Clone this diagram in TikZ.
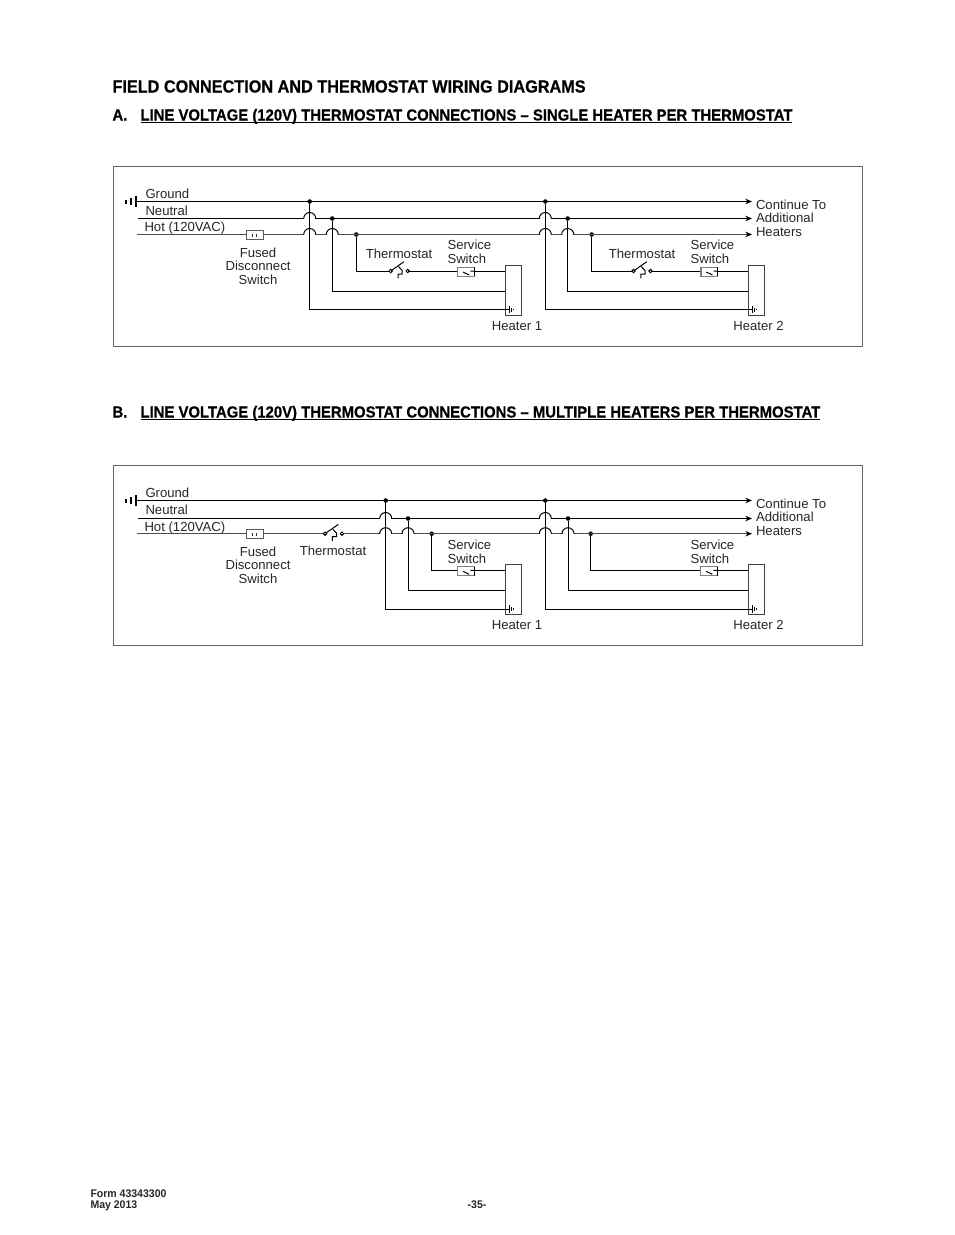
\documentclass[tikz,border=0pt]{standalone}
\usepackage{fontspec}
\setmainfont{Liberation Sans}
\newfontfamily\headfont[BoldFeatures={FakeStretch=0.93,FakeBold=0.5}]{Liberation Sans}
\newfontfamily\footfont[BoldFeatures={FakeStretch=0.95}]{Liberation Sans}
\usetikzlibrary{arrows.meta}

\tikzset{every picture/.style={line width=0.75pt},
	wire/.style={draw=black,line width=0.75pt},
	hotwire/.style={draw=black!70,line width=0.75pt},
	feed/.style={wire,-{Stealth[length=5pt,width=4.2pt]}},
	hotfeed/.style={hotwire,-{Stealth[length=5pt,width=4.2pt,black]}},
	tap/.style={circle,fill=black,inner sep=0pt,minimum size=3.4pt},
	panel/.style={draw=black!60,line width=0.6pt},
	label/.style={font=\fontsize{9.85}{10.2}\selectfont,text=black!85,inner sep=0pt,align=center},
	leftlabel/.style={label,align=left,anchor=west},
	heading/.style={font=\headfont\bfseries\fontsize{12}{14}\selectfont,inner sep=0pt,anchor=base west},
	bigheading/.style={heading,font=\headfont\bfseries\fontsize{13.1}{15}\selectfont},
	footer/.style={font=\footfont\bfseries\fontsize{8.3}{8.4}\selectfont,inner sep=0pt,align=left,text=black!85},
	heaterbox/.style={draw=black!75,fill=white,line width=0.75pt,minimum width=12.3pt,minimum height=37.5pt,inner sep=0pt},
	fusebox/.style={draw=black!65,fill=white,line width=0.75pt,minimum width=12.5pt,minimum height=6.2pt,inner sep=0pt},
	pics/hop/.style={code={
		\draw [white,line width=1.4pt] (-5.5,0) -- (5.5,0);
		\draw [wire] (-6,0) arc [start angle=180,end angle=0,radius=6];
	}},
	pics/fuseticks/.style={code={
		\draw [black!80] (-2,-1.5) -- (-2,1.5) (2,-1.5) -- (2,1.5);
	}},
	pics/earthbars/.style={code={
		\draw [wire,line width=0.9pt] (0,-5.7) -- (0,5.7);
		\draw [wire,line width=0.9pt] (-5,-3.4) -- (-5,3.4);
		\draw [wire,line width=0.9pt] (-10,-2) -- (-10,2);
	}},
	pics/heaterbars/.style={code={
		\draw [wire] (0,-3.7) -- (0,3.7);
		\draw [wire] (2.3,-2) -- (2.3,2);
		\draw [wire] (4.4,-0.8) -- (4.4,0.8);
	}},
	pics/thermo/.style={code={
		\draw [wire] (0,0) -- (13.3,9.3);
		\draw [wire] (7.3,-7.3) -- (7.3,-3) -- (11.5,-3) -- (11.5,0.5) -- (7.8,4.5);
		\draw [wire,fill=white] (0,0) circle [radius=1.7] (17,0) circle [radius=1.7];
	}},
	pics/servicebox/.style={code={
		\draw [draw=black!50,fill=white,line width=0.9pt] (0,3.7) rectangle (16.6,-5.3);
		\draw [black] (16.6,3.7) -- (16.6,-5.3);
		\draw [wire] (5.3,-1) -- (11.5,-4) (12.6,0) -- (16.6,0);
	}}
}

\begin{document}
\begin{tikzpicture}[x=0.75pt,y=0.75pt,yscale=-1,xscale=1]
	\useasboundingbox (0,0) rectangle (954,1235);

	% Headings
	\node [bigheading] (titleMain) at (112,92.5) {FIELD CONNECTION AND THERMOSTAT WIRING DIAGRAMS};
	\node [heading] (markA) at (112,120.5) {A.};
	\node [heading] (titleA) at (140,120.5) {\underline{\smash{LINE VOLTAGE (120V) THERMOSTAT CONNECTIONS – SINGLE HEATER PER THERMOSTAT}}};
	\node [heading] (markB) at (112,417.5) {B.};
	\node [heading] (titleB) at (140,417.5) {\underline{\smash{LINE VOLTAGE (120V) THERMOSTAT CONNECTIONS – MULTIPLE HEATERS PER THERMOSTAT}}};

	% Panel A
	\draw [panel] (113.5,166.5) rectangle (862.5,346.5);
	\coordinate (groundA) at (136,201.5);
	\coordinate (neutralA) at (138,218.5);
	\coordinate (hotA) at (137,234.5);
	\coordinate (groundAend) at (752,201.5);
	\coordinate (neutralAend) at (752,218.5);
	\coordinate (hotAend) at (752,234.5);
	\node [tap] (groundAa) at (309.7,201.5) {};
	\node [tap] (neutralAa) at (332.3,218.5) {};
	\node [tap] (hotAa) at (356.3,234.5) {};
	\node [tap] (groundAb) at (545.3,201.5) {};
	\node [tap] (neutralAb) at (567.7,218.5) {};
	\node [tap] (hotAb) at (591.7,234.5) {};
	\draw [feed] (groundA) -- (groundAend);
	\draw [feed] (neutralA) -- (neutralAend);
	\draw [hotfeed] (hotA) -- (hotAend);
	\path (groundA) pic {earthbars};
	\node [fusebox] (fuseA) at (254.7,235) {};
	\path (fuseA) pic {fuseticks};
	\path (groundAa |- neutralA) pic {hop} (groundAa |- hotA) pic {hop} (neutralAa |- hotA) pic {hop};
	\path (groundAb |- neutralA) pic {hop} (groundAb |- hotA) pic {hop} (neutralAb |- hotA) pic {hop};
	% Heater 1
	\coordinate (thermoAa) at (390.7,271);
	\coordinate (thermoAaout) at (407.7,271);
	\coordinate (serviceAa) at (457.7,271);
	\coordinate (serviceAaout) at (474.3,271);
	\coordinate (heaterAain) at (505.3,271);
	\coordinate (neutralAain) at (505.3,291.5);
	\coordinate (groundAain) at (509,309.5);
	\draw [wire] (hotAa) |- (thermoAa);
	\draw [wire] (thermoAaout) -- (serviceAa) (serviceAaout) -- (heaterAain);
	\draw [wire] (neutralAa) |- (neutralAain);
	\node [heaterbox] (heaterAa) at (513.5,290.3) {};
	\draw [wire] (groundAa) |- (groundAain);
	\path (thermoAa) pic {thermo} (serviceAa) pic {servicebox} (groundAain) pic {heaterbars};
	% Heater 2
	\coordinate (thermoAb) at (633.5,271);
	\coordinate (thermoAbout) at (650.5,271);
	\coordinate (serviceAb) at (701,271);
	\coordinate (serviceAbout) at (717.6,271);
	\coordinate (heaterAbin) at (748.3,271);
	\coordinate (neutralAbin) at (748.3,291.5);
	\coordinate (groundAbin) at (752,309.5);
	\draw [wire] (hotAb) |- (thermoAb);
	\draw [wire] (thermoAbout) -- (serviceAb) (serviceAbout) -- (heaterAbin);
	\draw [wire] (neutralAb) |- (neutralAbin);
	\node [heaterbox] (heaterAb) at (756.3,290.3) {};
	\draw [wire] (groundAb) |- (groundAbin);
	\path (thermoAb) pic {thermo} (serviceAb) pic {servicebox} (groundAbin) pic {heaterbars};
	% Text Node
	\node [leftlabel] (lblGroundA) at (145,193.5) {Ground};
	\node [leftlabel] (lblNeutralA) at (145,210.5) {Neutral};
	\node [leftlabel] (lblHotA) at (144,228) {Hot (120VAC)};
	\node [label] (lblFuseA) at (258,266) {Fused\\Disconnect\\Switch};
	\node [label] (lblThermoAa) at (399,253.5) {Thermostat};
	\node [leftlabel] (lblServiceAa) at (447,252) {Service\\Switch};
	\node [label] (lblHeaterAa) at (517,326) {Heater 1};
	\node [label] (lblThermoAb) at (642,253.5) {Thermostat};
	\node [leftlabel] (lblServiceAb) at (690,252) {Service\\Switch};
	\node [label] (lblHeaterAb) at (758.5,325.5) {Heater 2};
	\node [leftlabel] (lblContinueA) at (755.5,218) {Continue To\\Additional\\Heaters};

	% Panel B
	\draw [panel] (113.5,465.5) rectangle (862.5,645.5);
	\coordinate (groundB) at (136,500.5);
	\coordinate (neutralB) at (138,518.5);
	\coordinate (hotB) at (137,533.7);
	\coordinate (groundBend) at (752,500.5);
	\coordinate (neutralBend) at (752,518.5);
	\coordinate (hotBend) at (752,533.7);
	\node [tap] (groundBa) at (385.7,500.5) {};
	\node [tap] (neutralBa) at (408,518.5) {};
	\node [tap] (hotBa) at (431.7,533.7) {};
	\node [tap] (groundBb) at (545.3,500.5) {};
	\node [tap] (neutralBb) at (568,518.5) {};
	\node [tap] (hotBb) at (590.7,533.7) {};
	\draw [feed] (groundB) -- (groundBend);
	\draw [feed] (neutralB) -- (neutralBend);
	\draw [hotfeed] (hotB) -- (hotBend);
	\path (groundB) pic {earthbars};
	\node [fusebox] (fuseB) at (254.7,534) {};
	\path (fuseB) pic {fuseticks};
	% Thermostat on the hot line
	\coordinate (thermoB) at (325,533.7);
	\draw [white,line width=1.4pt] (326,533.7) -- (341.5,533.7);
	\path (thermoB) pic {thermo};
	\path (groundBa |- neutralB) pic {hop} (groundBa |- hotB) pic {hop} (neutralBa |- hotB) pic {hop};
	\path (groundBb |- neutralB) pic {hop} (groundBb |- hotB) pic {hop} (neutralBb |- hotB) pic {hop};
	% Heater 1
	\coordinate (serviceBa) at (457.7,570.3);
	\coordinate (serviceBaout) at (474.3,570.3);
	\coordinate (heaterBain) at (505.3,570.3);
	\coordinate (neutralBain) at (505.3,590.3);
	\coordinate (groundBain) at (509,609);
	\draw [wire] (hotBa) |- (serviceBa);
	\draw [wire] (serviceBaout) -- (heaterBain);
	\draw [wire] (neutralBa) |- (neutralBain);
	\node [heaterbox] (heaterBa) at (513.5,589.5) {};
	\draw [wire] (groundBa) |- (groundBain);
	\path (serviceBa) pic {servicebox} (groundBain) pic {heaterbars};
	% Heater 2
	\coordinate (serviceBb) at (700.8,570.3);
	\coordinate (serviceBbout) at (717.4,570.3);
	\coordinate (heaterBbin) at (748.3,570.3);
	\coordinate (neutralBbin) at (748.3,590.3);
	\coordinate (groundBbin) at (752,609);
	\draw [wire] (hotBb) |- (serviceBb);
	\draw [wire] (serviceBbout) -- (heaterBbin);
	\draw [wire] (neutralBb) |- (neutralBbin);
	\node [heaterbox] (heaterBb) at (756.3,589.5) {};
	\draw [wire] (groundBb) |- (groundBbin);
	\path (serviceBb) pic {servicebox} (groundBbin) pic {heaterbars};
	% Text Node
	\node [leftlabel] (lblGroundB) at (145,492.5) {Ground};
	\node [leftlabel] (lblNeutralB) at (145,509.5) {Neutral};
	\node [leftlabel] (lblHotB) at (144,527.8) {Hot (120VAC)};
	\node [label] (lblFuseB) at (258,565) {Fused\\Disconnect\\Switch};
	\node [label] (lblThermoB) at (333,550.5) {Thermostat};
	\node [leftlabel] (lblServiceBa) at (447,551.5) {Service\\Switch};
	\node [label] (lblHeaterBa) at (517,625) {Heater 1};
	\node [leftlabel] (lblServiceBb) at (690,551.5) {Service\\Switch};
	\node [label] (lblHeaterBb) at (758.5,624.5) {Heater 2};
	\node [leftlabel] (lblContinueB) at (755.5,517) {Continue To\\Additional\\Heaters};

	% Footer
	\node [footer,anchor=north west] (formNo) at (90,1189) {Form 43343300\\May 2013};
	\node [footer] (pageNo) at (477,1204.5) {-35-};
\end{tikzpicture}
\end{document}
